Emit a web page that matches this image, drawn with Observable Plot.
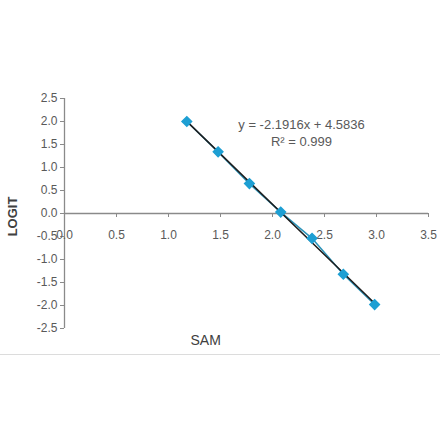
<!DOCTYPE html>
<html>
<head>
<meta charset="utf-8">
<script src="https://cdn.jsdelivr.net/npm/d3@7"></script>
<script src="https://cdn.jsdelivr.net/npm/@observablehq/plot@0.6"></script>
<style>
  body { margin: 0; background: #fff; width: 440px; }
  #chart svg { display: block; }
  .sep { border-top: 1px solid #dcdcdc; height: 86px; }
</style>
</head>
<body>
<div id="chart"></div>
<div class="sep"></div>
<script>
// SAM (log scale) vs LOGIT readings
const sam = [1.176, 1.477, 1.778, 2.079, 2.380, 2.681, 2.982];
const logit = [2.0, 1.34, 0.65, 0.03, -0.54, -1.32, -1.98];

const xTicks = [0, 0.5, 1.0, 1.5, 2.0, 2.5, 3.0, 3.5];
const yTicks = [2.5, 2.0, 1.5, 1.0, 0.5, 0.0, -0.5, -1.0, -1.5, -2.0, -2.5];

const equation = "y = -2.1916x + 4.5836";
const rSquared = "R² = 0.999";

const points = sam.map((x, i) => ({ sam: x, logit: logit[i] }));

const axisColor = "#8a8a8a";
const textColor = "#595959";
const fmt = d => d.toFixed(1); // plain hyphen for negatives, like the original

const chart = Plot.plot({
  width: 440,
  height: 354,
  marginLeft: 64,
  marginRight: 12,
  marginTop: 98,
  marginBottom: 26,
  style: {
    fontFamily: "'Liberation Sans', Arial, sans-serif",
    fontSize: "12px",
    color: textColor,
    background: "#fff"
  },
  x: { domain: [0, 3.5], axis: null },
  y: { domain: [-2.5, 2.5], axis: null },
  marks: [
    // y axis
    Plot.ruleX([0], { y1: -2.5, y2: 2.5, stroke: axisColor, strokeWidth: 1.3 }),
    Plot.axisY(yTicks, {
      anchor: "left",
      tickSize: 4,
      tickPadding: 3,
      stroke: axisColor,
      tickFormat: fmt,
      fill: textColor,
      label: null
    }),
    // x axis sits on y = 0
    Plot.ruleY([0], { x1: 0, x2: 3.5, stroke: axisColor, strokeWidth: 1.3 }),
    Plot.ruleX(xTicks, { x: d => d, y1: 0, y2: 0, insetBottom: -4, stroke: axisColor }),
    Plot.text(xTicks, { x: d => d, y: 0, dy: 22, text: fmt, fill: textColor }),
    // series
    Plot.line(points, { x: "sam", y: "logit", stroke: "#2b93b9", strokeWidth: 1.5 }),
    Plot.linearRegressionY(points, { x: "sam", y: "logit", ci: 0, stroke: "#1d1d1d", strokeWidth: 1.5 }),
    Plot.dot(points, { x: "sam", y: "logit", symbol: "diamond2", r: 4.3, fill: "#1e9fd3", stroke: "#1e9fd3" }),
    // trendline label
    Plot.text([equation], { frameAnchor: "top", lineAnchor: "middle", dx: 55, dy: 26, fontSize: 13, fill: textColor }),
    Plot.text([rSquared], { frameAnchor: "top", lineAnchor: "middle", dx: 55, dy: 43, fontSize: 13, fill: textColor }),
    // axis titles
    Plot.text(["LOGIT"], { frameAnchor: "left", textAnchor: "middle", dx: -52, dy: 3, rotate: -90, fontSize: 13, fontWeight: "bold", fill: "#404040" }),
    Plot.text(["SAM"], { frameAnchor: "bottom-left", lineAnchor: "middle", dx: 126, dy: 12, fontSize: 14, fill: "#404040" })
  ]
});

document.getElementById("chart").appendChild(chart);
</script>
</body>
</html>
